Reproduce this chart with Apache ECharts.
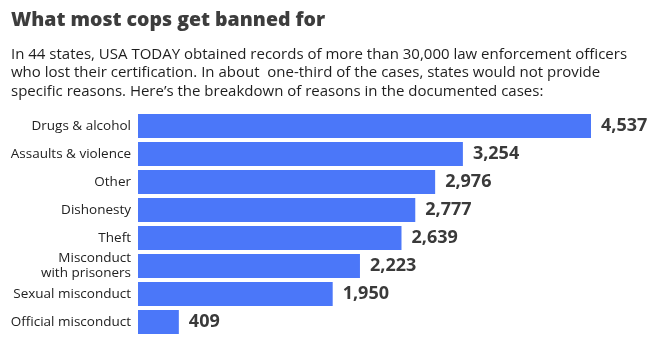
<!DOCTYPE html>
<html><head><meta charset="utf-8">
<script src="https://cdn.jsdelivr.net/npm/echarts@6/dist/echarts.min.js"></script>
<style>html,body{margin:0;padding:0;background:#fff}#c{width:670px;height:346px}</style>
</head><body><div id="c"></div>
<script>
const categories = ["Drugs & alcohol","Assaults & violence","Other","Dishonesty","Theft","Misconduct\nwith prisoners","Sexual misconduct","Official misconduct"];
const values = [4537,3254,2976,2777,2639,2223,1950,409];
const titleText = "What most cops get banned for";
const subText = "In 44 states, USA TODAY obtained records of more than 30,000 law enforcement officers\nwho lost their certification. In about  one-third of the cases, states would not provide\nspecific reasons. Here\u2019s the breakdown of reasons in the documented cases:";

const chart = echarts.init(document.getElementById('c'), null, {renderer:'canvas'});
chart.setOption({
  animation:false,
  title:{
    text:titleText, subtext:subText, left:6, top:5, itemGap:15,
    textStyle:{fontFamily:'Open Sans', fontWeight:800, fontSize:19.5, color:'#3d3d3d'},
    subtextStyle:{fontFamily:'Open Sans', fontSize:15, color:'#1e1e1e', lineHeight:18.5}
  },
  grid:{left:138, top:112, width:453, height:224, containLabel:false},
  xAxis:{type:'value', min:0, max:4537, show:false},
  yAxis:{type:'category', data:categories, inverse:true,
    axisLine:{show:false}, axisTick:{show:false},
    axisLabel:{margin:7, fontFamily:'Open Sans', fontSize:13.5, color:'#222', lineHeight:15}},
  series:[{type:'bar', data:values, barCategoryGap:'14%',
    itemStyle:{color:'#4b77f9'},
    label:{show:true, position:'right', distance:10, fontFamily:'Open Sans', fontWeight:'bold', fontSize:18, color:'#3a3a3a',
      formatter:p=>p.value.toLocaleString('en-US')}}]
});
</script></body></html>
